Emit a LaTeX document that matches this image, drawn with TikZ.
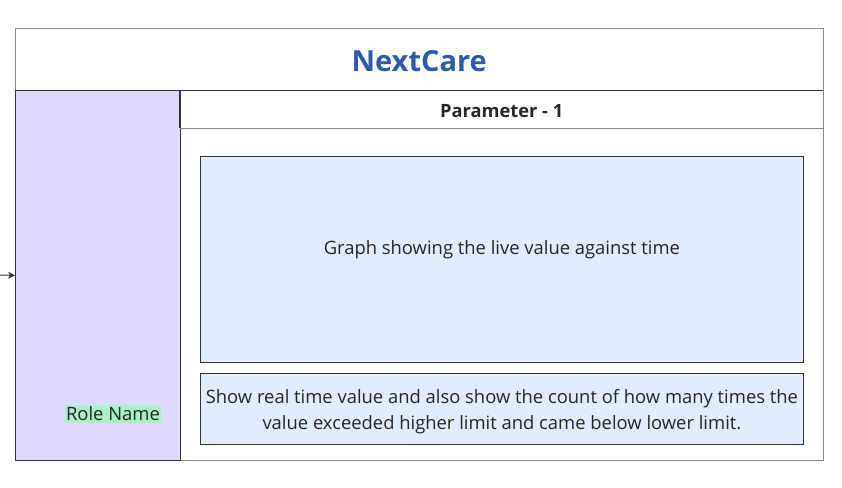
\documentclass[tikz,border=0pt]{standalone}
\usepackage{fontspec}
\setmainfont{Open Sans}
\usetikzlibrary{positioning, arrows.meta}
\definecolor{titleblue}{HTML}{2E5AAC}
\definecolor{lavender}{HTML}{DCD9FC}
\definecolor{paleblue}{HTML}{E1EDFD}
\definecolor{mint}{HTML}{ABEFC6}
\definecolor{edge}{HTML}{333333}
\definecolor{softedge}{HTML}{8A8A8A}

\begin{document}
\begin{tikzpicture}[x=1pt, y=-1pt, every node/.style={font=\fontsize{18.4}{26}\selectfont, text=black!85}]
        \useasboundingbox (0,0) rectangle (842,487);
        \tikzset{panel/.style={rectangle, anchor=north west, inner sep=0pt},
                 card/.style={panel, draw=edge, fill=paleblue, line width=0.8pt}}

        \node[panel, draw=softedge, line width=0.8pt, minimum width=808pt, minimum height=432pt] (frame) at (15,28) {};
        \node[panel, minimum width=808pt, minimum height=62pt] (head) at (15,28) {};
        \node[font=\fontsize{29}{34}\selectfont\bfseries, text=titleblue] (title) at ([yshift=-2pt]head.center) {NextCare};
        \node[panel, draw=edge, fill=lavender, line width=0.8pt, minimum width=165pt, minimum height=370pt] (side) at (15,90) {};
        \node[panel, minimum width=643pt, minimum height=38pt] (param) at (180,90) {};
        \node[font=\fontsize{18.3}{22}\selectfont\bfseries] (ptitle) at ([yshift=-2pt]param.center) {Parameter - 1};
        \node[card, minimum width=603pt, minimum height=206pt] (graph) at (200,156) {};
        \node (gtext) at ([yshift=10pt]graph.center) {Graph showing the live value against time};
        \node[card, minimum width=603pt, minimum height=71pt] (stats) at (200,373) {};
        \node[align=center] (stext) at ([yshift=-3pt]stats.center) {Show real time value and also show the count of how many times the\\value exceeded higher limit and came below lower limit.};
        \node[fill=mint, inner sep=1.5pt] (role) at (113,414) {Role Name};

        \draw[edge, line width=1.2pt] (head.south west) -- (head.south east);
        \draw[edge, line width=1.2pt] (param.north west) -- (param.south west);
        \draw[softedge, line width=0.8pt] (param.south west) -- (param.south east);
        \coordinate (src) at (0,275);
        \draw[-{Stealth[length=7pt, width=7pt]}, edge, line width=1pt] (src) -- (side.west);
      \end{tikzpicture}
\end{document}
